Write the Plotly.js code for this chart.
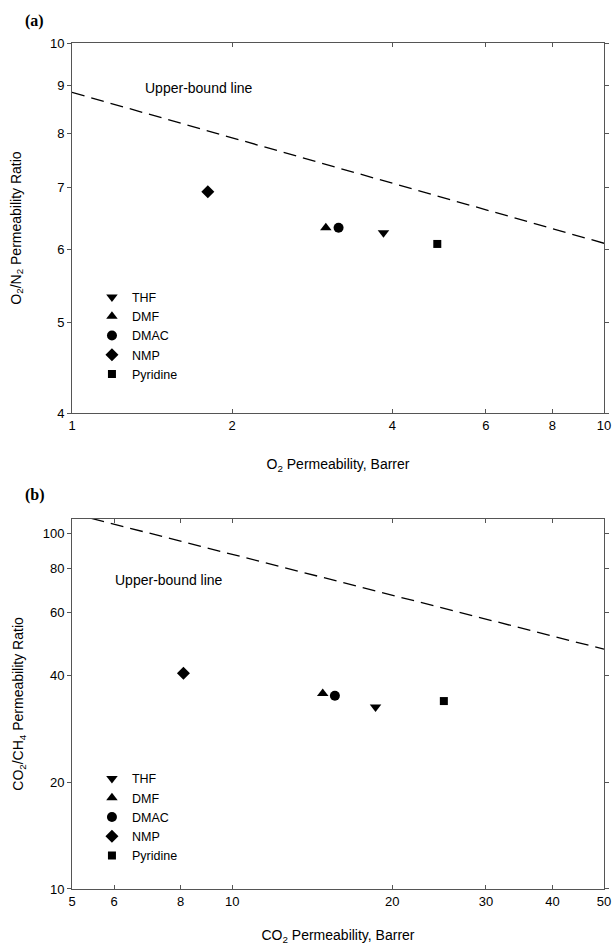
<!DOCTYPE html>
<html>
<head>
<meta charset="utf-8">
<script src="https://cdn.plot.ly/plotly-3.0.1.min.js"></script>
<style>html,body{margin:0;padding:0;background:#fff;}#chart{width:612px;height:949px;}</style>
</head>
<body>
<div id="chart"></div>
<script>
// ---- data ----
const solvents = ['THF', 'DMF', 'DMAC', 'NMP', 'Pyridine'];
const symbols = ['triangle-down', 'triangle-up', 'circle', 'diamond', 'square'];
const markerSizes = [10, 10, 10, 10, 8];
// (a) O2/N2
const o2Perm = [3.85, 3.0, 3.17, 1.80, 4.86];
const o2n2Ratio = [6.25, 6.33, 6.33, 6.92, 6.08];
const boundO2x = [1, 10];
const boundO2y = [8.85, 6.09];
// (b) CO2/CH4
const co2Perm = [18.6, 14.8, 15.6, 8.1, 25.0];
const co2ch4Ratio = [32.5, 35.5, 35.0, 40.5, 33.8];
const boundCO2x = [5, 50];
const boundCO2y = [114, 47.3];
// ticks
const xTicksA = [1, 2, 4, 6, 8, 10];
const yTicksA = [4, 5, 6, 7, 8, 9, 10];
const xTicksB = [5, 6, 8, 10, 20, 30, 40, 50];
const yTicksB = [10, 20, 40, 60, 80, 100];

const FONT = 'Arial, "Liberation Sans", sans-serif';
const traces = [];
traces.push({x: boundO2x, y: boundO2y, xaxis: 'x', yaxis: 'y', mode: 'lines',
  line: {color: '#000', width: 1.3, dash: '13px,7px'}, showlegend: false, hoverinfo: 'skip'});
traces.push({x: boundCO2x, y: boundCO2y, xaxis: 'x2', yaxis: 'y2', mode: 'lines',
  line: {color: '#000', width: 1.3, dash: '13px,7px'}, showlegend: false, hoverinfo: 'skip'});
solvents.forEach((s, i) => {
  traces.push({x: [o2Perm[i]], y: [o2n2Ratio[i]], xaxis: 'x', yaxis: 'y', mode: 'markers', name: s,
    marker: {symbol: symbols[i], size: markerSizes[i], color: '#000'}, legend: 'legend'});
});
solvents.forEach((s, i) => {
  traces.push({x: [co2Perm[i]], y: [co2ch4Ratio[i]], xaxis: 'x2', yaxis: 'y2', mode: 'markers', name: s,
    marker: {symbol: symbols[i], size: markerSizes[i], color: '#000'}, legend: 'legend2'});
});

const axisCommon = {type: 'log', showgrid: false, zeroline: false, showline: true, linecolor: '#555',
  linewidth: 1, mirror: 'ticks', tickcolor: '#555', ticklen: 4, tickfont: {family: FONT, size: 13, color: '#000'}};

const layout = {
  width: 612, height: 949,
  margin: {l: 72, r: 8, t: 43, b: 60},
  paper_bgcolor: '#fff', plot_bgcolor: '#fff',
  font: {family: FONT, color: '#000'},
  xaxis: Object.assign({}, axisCommon, {domain: [0, 1], anchor: 'y', range: [0, 1],
    tickvals: xTicksA, ticktext: xTicksA.map(String), ticks: 'inside',
    title: {text: 'O<sub>2</sub> Permeability, Barrer', font: {family: FONT, size: 14}, standoff: 27}}),
  yaxis: Object.assign({}, axisCommon, {domain: [0.5626, 1], anchor: 'x', range: [Math.log10(4), 1],
    tickvals: yTicksA, ticktext: yTicksA.map(String), ticks: 'outside',
    title: {text: 'O<sub>2</sub>/N<sub>2</sub> Permeability Ratio', font: {family: FONT, size: 14}, standoff: 25}}),
  xaxis2: Object.assign({}, axisCommon, {domain: [0, 1], anchor: 'y2', range: [Math.log10(5), Math.log10(50)],
    tickvals: xTicksB, ticktext: xTicksB.map(String), ticks: 'inside',
    title: {text: 'CO<sub>2</sub> Permeability, Barrer', font: {family: FONT, size: 14}, standoff: 22}}),
  yaxis2: Object.assign({}, axisCommon, {domain: [0, 0.4374], anchor: 'x2', range: [1, Math.log10(110)],
    tickvals: yTicksB, ticktext: yTicksB.map(String), ticks: 'outside',
    title: {text: 'CO<sub>2</sub>/CH<sub>4</sub> Permeability Ratio', font: {family: FONT, size: 14}, standoff: 15}}),
  legend: {x: 0.0375, y: 0.717, xanchor: 'left', yanchor: 'top', bgcolor: 'rgba(0,0,0,0)',
    borderwidth: 0, font: {family: FONT, size: 12.5}, itemwidth: 30, tracegroupgap: 0},
  legend2: {x: 0.0375, y: 0.148, xanchor: 'left', yanchor: 'top', bgcolor: 'rgba(0,0,0,0)',
    borderwidth: 0, font: {family: FONT, size: 12.5}, itemwidth: 30, tracegroupgap: 0},
  annotations: [
    {text: '<b>(a)</b>', xref: 'paper', yref: 'paper', x: -0.093, y: 1.026, xanchor: 'left', yanchor: 'middle',
     showarrow: false, font: {family: '"Liberation Serif", "Times New Roman", serif', size: 16}},
    {text: '<b>(b)</b>', xref: 'paper', yref: 'paper', x: -0.093, y: (889 - 495) / 846, xanchor: 'left', yanchor: 'middle',
     showarrow: false, font: {family: '"Liberation Serif", "Times New Roman", serif', size: 16}},
    {text: 'Upper-bound line', xref: 'paper', yref: 'paper', x: (143 - 72) / 532, y: (889 - 88) / 846,
     xanchor: 'left', yanchor: 'middle', showarrow: false, font: {family: FONT, size: 14}},
    {text: 'Upper-bound line', xref: 'paper', yref: 'paper', x: (113 - 72) / 532, y: (889 - 580) / 846,
     xanchor: 'left', yanchor: 'middle', showarrow: false, font: {family: FONT, size: 14}}
  ]
};

Plotly.newPlot('chart', traces, layout, {staticPlot: true, displayModeBar: false});
</script>
</body>
</html>
